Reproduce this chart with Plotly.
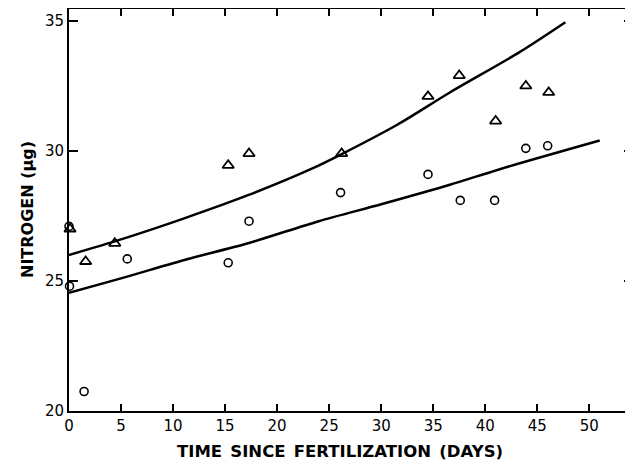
import plotly.graph_objects as go

# Triangles (upper series)
tri_x = [0.1, 1.6, 4.4, 15.3, 17.3, 26.2, 34.5, 37.5, 41.0, 43.9, 46.1]
tri_y = [27.0, 25.75, 26.45, 29.45, 29.9, 29.9, 32.1, 32.9, 31.15, 32.5, 32.25]

# Circles (lower series)
circ_x = [0.0, 0.05, 1.45, 5.6, 15.3, 17.3, 26.1, 34.5, 37.6, 40.9, 43.9, 46.0]
circ_y = [27.1, 24.8, 20.75, 25.85, 25.7, 27.3, 28.4, 29.1, 28.1, 28.1, 30.1, 30.2]

# Fitted curves
up_x = [0, 5, 11, 17.2, 23.5, 26.3, 31.5, 36.6, 43.3, 47.7]
up_y = [26.0, 26.6, 27.4, 28.3, 29.35, 29.9, 31.0, 32.25, 33.8, 34.95]
lo_x = [0, 5, 11, 17.2, 24, 30, 36.6, 41.4, 51]
lo_y = [24.55, 25.1, 25.8, 26.45, 27.3, 27.95, 28.7, 29.3, 30.4]

x_ticks = [0, 5, 10, 15, 20, 25, 30, 35, 40, 45, 50]
y_ticks = [20, 25, 30, 35]

x_title = "TIME SINCE FERTILIZATION (DAYS)"
y_title = "NITROGEN (µg)"

fig = go.Figure()
fig.add_trace(go.Scatter(x=up_x, y=up_y, mode="lines", line=dict(color="black", width=2.5, shape="spline", smoothing=0.8), showlegend=False))
fig.add_trace(go.Scatter(x=lo_x, y=lo_y, mode="lines", line=dict(color="black", width=2.5, shape="spline", smoothing=0.8), showlegend=False))
fig.add_trace(go.Scatter(x=tri_x, y=tri_y, mode="markers",
                         marker=dict(symbol="triangle-up-open", size=10, color="black", line=dict(width=1.8)),
                         showlegend=False, cliponaxis=False))
fig.add_trace(go.Scatter(x=circ_x, y=circ_y, mode="markers",
                         marker=dict(symbol="circle-open", size=8, color="black", line=dict(width=1.6)),
                         showlegend=False, cliponaxis=False))

# page body has an 8px margin: figure is offset by 8px, so size/margins compensate
fig.update_layout(
    width=625, height=453,
    margin=dict(l=61, r=0, t=1, b=50, autoexpand=False),
    plot_bgcolor="white", paper_bgcolor="white",
    font=dict(family="DejaVu Sans", color="black"),
)
fig.update_xaxes(range=[0, 54.2], tickvals=x_ticks, ticktext=[str(v) for v in x_ticks],
                 showgrid=False, zeroline=False, showline=True, linecolor="black", linewidth=2,
                 ticks="inside", ticklen=7, tickwidth=1.5, tickcolor="black", mirror="ticks",
                 tickfont=dict(size=15), automargin=False)
fig.update_yaxes(range=[20, 35.46], tickvals=y_ticks, ticktext=[str(v) for v in y_ticks],
                 showgrid=False, zeroline=False, showline=True, linecolor="black", linewidth=2,
                 ticks="inside", ticklen=9, tickwidth=1.5, tickcolor="black", mirror="ticks",
                 tickfont=dict(size=15), automargin=False)

fig.add_annotation(text="<b>" + x_title.replace(" ", "\u2002") + "</b>", xref="paper", yref="paper",
                   x=(340 - 69) / 564, y=(411 - 451) / 402, xanchor="center", yanchor="middle",
                   showarrow=False, font=dict(size=16.5))
fig.add_annotation(text="<b>" + y_title + "</b>", xref="paper", yref="paper",
                   x=(27 - 69) / 564, y=(411 - 210) / 402, xanchor="center", yanchor="middle",
                   textangle=-90, showarrow=False, font=dict(size=16))

fig.write_html("out.html")
